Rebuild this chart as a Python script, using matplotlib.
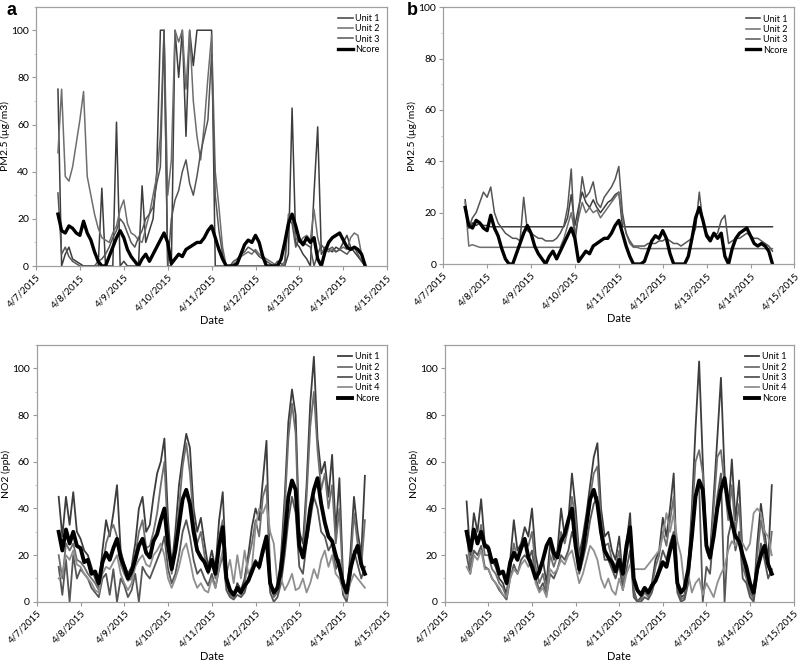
import numpy as np
import matplotlib
matplotlib.use('Agg')
import matplotlib.pyplot as plt
from matplotlib.ticker import MultipleLocator

plt.rcParams['font.family'] = ['Lato', 'DejaVu Sans']

# 샘플 시각 (4/7/2015 0시 기준 시간, 2시간 간격)
hours = np.arange(12, 181, 2)
days = hours / 24.0

date_labels = ['4/7/2015', '4/8/2015', '4/9/2015', '4/10/2015', '4/11/2015',
               '4/12/2015', '4/13/2015', '4/14/2015', '4/15/2015']

# ---- PM2.5 ----
ncore_pm = [22, 15, 14, 17, 16, 14, 13, 19, 14, 11, 6, 2,
            0, 0, 4, 8, 12, 15, 12, 7, 4, 2, 0, 3,
            5, 2, 5, 8, 11, 14, 10, 1, 3, 5, 4, 7,
            8, 9, 10, 10, 12, 15, 17, 12, 7, 3, 0, 0,
            0, 1, 5, 9, 11, 10, 13, 10, 4, 0, 0, 0,
            0, 3, 10, 18, 22, 17, 11, 9, 12, 10, 12, 3,
            0, 6, 10, 12, 13, 14, 11, 8, 7, 8, 7, 5,
            0]

a_unit1 = [75, 0, 5, 8, 3, 2, 1, 0, 0, 0, 0, 0,
           33, 0, 0, 0, 61, 0, 2, 0, 0, 0, 0, 34,
           10, 15, 20, 40, 100, 100, 0, 0, 100, 80, 100, 55,
           100, 85, 100, 100, 100, 100, 100, 0, 0, 0, 0, 0,
           0, 0, 0, 0, 0, 0, 0, 0, 0, 0, 0, 0,
           0, 0, 0, 5, 67, 10, 8, 5, 3, 0, 31, 59,
           5, 8, 7, 6, 8, 7, 10, 13, 8, 6, 4, 2,
           0]
a_unit2 = [48, 75, 38, 36, 42, 52, 62, 74, 38, 30, 22, 16,
           12, 11, 10, 14, 17, 24, 28, 18, 14, 13, 11, 10,
           16, 22, 30, 38, 55, 100, 30, 45, 100, 95, 100, 75,
           100, 70, 55, 45, 60, 80, 98, 40, 25, 8, 0, 0,
           1, 2, 4, 5, 6, 5, 7, 5, 4, 3, 2, 1,
           0, 0, 2, 22, 20, 12, 10, 12, 13, 11, 24, 12,
           6, 7, 6, 7, 6, 7, 8, 7, 12, 14, 13, 5,
           0]
a_unit3 = [31, 5, 8, 4, 2, 1, 0, 0, 0, 0, 0, 2,
           3, 5, 8, 12, 15, 20, 18, 14, 10, 8, 12, 15,
           20, 22, 25, 35, 42, 100, 0, 20, 28, 32, 40, 45,
           35, 30, 38, 48, 55, 62, 90, 30, 15, 5, 0, 0,
           2, 3, 5, 6, 8, 7, 6, 4, 3, 2, 1, 0,
           2, 1, 0, 20, 18, 8, 12, 10, 9, 8, 0, 5,
           9, 7, 7, 8, 6, 7, 6, 5, 7, 8, 5, 2,
           0]

b_unit1 = [25, 14, 16, 15, 16, 15, 15, 14.5, 14.5, 14.5, 14.5, 14.5,
           14.5, 14.5, 14.5, 14.5, 14.5, 14.5, 14.5, 14.5, 14.5, 14.5, 14.5, 14.5,
           14.5, 14.5, 14.5, 14.5, 18, 27, 15, 22, 28, 24, 22, 25,
           22, 20, 22, 24, 25, 27, 28, 14.5, 14.5, 14.5, 14.5, 14.5,
           14.5, 14.5, 14.5, 14.5, 14.5, 14.5, 14.5, 14.5, 14.5, 14.5, 14.5, 14.5,
           14.5, 14.5, 14.5, 14.5, 14.5, 14.5, 14.5, 14.5, 14.5, 14.5, 14.5, 14.5,
           14.5, 14.5, 14.5, 14.5, 14.5, 14.5, 14.5, 14.5, 14.5, 14.5, 14.5, 14.5,
           14.5]
b_unit2 = [24, 7, 7.5, 7, 6.5, 6.5, 6.5, 6.5, 6.5, 6.5, 6.5, 6.5,
           6.5, 6.5, 6.5, 6.5, 6.5, 6.5, 6.5, 6.5, 6.5, 6.5, 6.5, 6.5,
           6.5, 6.5, 6.5, 10, 15, 20, 12, 18, 24, 20, 22, 20,
           21, 18, 20, 22, 24, 26, 28, 18, 12, 8, 6.5, 6.5,
           6, 6, 6, 6, 6, 6, 6, 6, 6, 6, 6, 6,
           6, 6, 6, 6, 6, 6, 6, 6, 6, 6, 6, 6,
           6, 6, 6, 6, 6, 6, 6, 6, 6, 6, 6, 6,
           6]
b_unit3 = [22, 14, 18, 20, 24, 28, 26, 30, 20, 16, 14, 12,
           11, 10, 10, 9, 26, 13, 12, 11, 10, 10, 9, 9,
           9, 10, 12, 15, 22, 37, 8, 20, 34, 26, 28, 32,
           24, 22, 26, 28, 30, 33, 38, 20, 12, 9, 7, 7,
           7, 7, 8, 8, 8, 9, 9, 10, 9, 8, 8, 7,
           8, 9, 10, 14, 28, 16, 12, 10, 11, 12, 17, 19,
           8, 9, 10, 10, 11, 12, 11, 10, 10, 9, 8, 7,
           5]

# ---- NO2 ----
ncore_no2 = [30, 22, 31, 25, 30, 24, 23, 17, 18, 12, 13, 8,
             17, 21, 18, 23, 27, 19, 15, 10, 13, 18, 24, 27,
             21, 19, 26, 29, 35, 40, 24, 14, 22, 33, 44, 48,
             42, 30, 22, 19, 17, 13, 18, 12, 24, 32, 10, 5,
             3, 6, 4, 7, 9, 13, 17, 15, 22, 28, 8, 4,
             6, 14, 28, 45, 52, 48, 24, 19, 28, 40, 48, 53,
             42, 34, 28, 26, 20, 15, 8, 4, 14, 20, 24, 16,
             12]

c_unit1 = [45, 28, 45, 33, 47, 30, 27, 22, 20, 15, 10, 6,
           22, 35, 28, 38, 50, 22, 16, 12, 15, 25, 40, 45,
           30, 33, 45, 55, 60, 70, 35, 15, 30, 50, 62, 72,
           66, 40, 30, 36, 25, 15, 22, 14, 35, 47, 12, 4,
           2, 8, 5, 10, 20, 32, 40, 35, 52, 69, 10, 3,
           5, 20, 45, 77, 91, 80, 30, 25, 50, 85, 105, 70,
           55, 60, 45, 63, 30, 53, 10, 3, 20, 45, 30, 20,
           54]
c_unit2 = [20, 10, 25, 22, 25, 18, 17, 15, 12, 10, 8, 5,
           14, 25, 30, 33, 28, 16, 12, 9, 10, 20, 30, 35,
           23, 24, 30, 38, 50, 60, 26, 12, 25, 40, 58, 68,
           55, 35, 25, 30, 20, 12, 18, 10, 28, 35, 8, 3,
           2, 5, 3, 8, 18, 25, 35, 28, 45, 50, 8, 2,
           4, 15, 40, 70, 85, 72, 25, 20, 45, 75, 90, 65,
           48, 55, 40, 50, 25, 40, 8, 2, 15, 38, 25, 15,
           35]
c_unit3 = [15, 3, 18, 0, 20, 10, 14, 12, 10, 6, 4, 2,
           10, 12, 3, 14, 0, 10, 7, 2, 5, 12, 0, 15,
           12, 10, 14, 18, 22, 28, 14, 8, 12, 20, 30, 35,
           28, 18, 12, 14, 10, 7, 12, 6, 14, 20, 5, 2,
           1, 3, 2, 4, 10, 12, 18, 14, 20, 25, 4, 0,
           2, 8, 20, 35, 45, 38, 15, 12, 25, 35, 45, 40,
           30, 28, 22, 25, 14, 18, 3, 0, 10, 22, 16, 10,
           15]
c_unit4 = [10, 12, 20, 18, 22, 16, 15, 12, 10, 8, 5, 4,
           12, 15, 14, 17, 20, 12, 8, 5, 8, 15, 18, 20,
           16, 15, 20, 22, 25, 20, 10, 6, 10, 15, 22, 25,
           18, 10, 6, 8, 5, 4, 10, 6, 15, 22, 12, 18,
           8, 20, 10, 22, 12, 15, 32, 40, 38, 42, 30, 25,
           8, 10, 5, 8, 12, 5, 6, 10, 4, 8, 14, 10,
           18, 22, 15, 20, 12, 10, 5, 2, 8, 12, 10, 8,
           6]

d_unit1 = [43, 20, 38, 30, 44, 25, 24, 18, 15, 10, 8, 3,
           18, 35, 22, 25, 32, 28, 40, 20, 12, 18, 8, 25,
           18, 22, 40, 28, 35, 55, 40, 20, 28, 38, 50, 62,
           68, 40, 28, 30, 22, 18, 28, 10, 25, 38, 5, 0,
           2, 5, 3, 8, 18, 22, 36, 28, 40, 55, 8, 2,
           3, 15, 40, 74, 103, 60, 25, 20, 45, 70, 96, 55,
           38, 61, 35, 52, 18, 12, 5, 2, 25, 42, 30, 18,
           50]
d_unit2 = [30, 15, 30, 25, 33, 20, 20, 14, 12, 8, 6, 2,
           14, 25, 18, 22, 26, 24, 30, 15, 8, 12, 5, 20,
           15, 20, 30, 25, 32, 45, 35, 18, 25, 32, 45, 55,
           58, 35, 24, 25, 18, 15, 22, 8, 20, 30, 4, 0,
           1, 4, 2, 6, 15, 20, 30, 24, 35, 45, 6, 1,
           2, 12, 35, 60, 65, 55, 22, 18, 40, 62, 65, 50,
           35, 50, 30, 42, 15, 10, 4, 1, 20, 35, 26, 15,
           30]
d_unit3 = [20, 12, 22, 20, 24, 15, 14, 10, 8, 5, 3, 1,
           10, 16, 12, 18, 20, 18, 22, 10, 5, 8, 3, 12,
           10, 14, 20, 18, 22, 30, 24, 12, 18, 25, 35, 42,
           45, 28, 18, 18, 14, 10, 16, 5, 14, 22, 2, 0,
           0, 2, 1, 4, 10, 15, 22, 18, 25, 30, 4, 0,
           1, 8, 25, 45, 50, 0, 15, 12, 30, 45, 55, 0,
           28, 35, 22, 30, 10, 8, 2, 0, 12, 25, 18, 10,
           14]
d_unit4 = [15, 12, 20, 18, 22, 14, 14, 10, 8, 6, 3, 2,
           10, 14, 12, 16, 18, 15, 18, 8, 4, 6, 2, 14,
           12, 14, 18, 16, 20, 22, 15, 8, 12, 18, 24, 22,
           18, 10, 6, 10, 5, 3, 10, 5, 12, 16, 14, 14,
           14, 14, 16, 18, 20, 22, 28, 38, 30, 38, 26, 20,
           6, 12, 4, 8, 10, 3, 8, 5, 2, 8, 12, 15,
           22, 26, 24, 27, 25, 22, 25, 38, 40, 38, 30, 28,
           20]

unit_colors = ['#3d3d3d', '#6e6e6e', '#555555', '#8f8f8f']


def draw_panel(ax, units, ncore, ylabel, ymax, lw_unit=1.1, lw_ncore=2.4):
    for i, vals in enumerate(units):
        ax.plot(days, vals, color=unit_colors[i], lw=lw_unit, label=f'Unit {i + 1}')
    ax.plot(days, ncore, color='black', lw=lw_ncore, label='Ncore')

    ax.set_xlim(0, 8)
    ax.set_ylim(0, ymax)
    ax.set_xticks(range(9))
    ax.set_xticklabels(date_labels, rotation=45, ha='right',
                       rotation_mode='anchor', fontsize=7)
    ax.set_yticks([0, 20, 40, 60, 80, 100])
    ax.yaxis.set_minor_locator(MultipleLocator(10))
    ax.tick_params(axis='y', labelsize=7.5, length=3, pad=2, color='#999999')
    ax.tick_params(axis='x', length=3, pad=2, color='#999999')
    ax.tick_params(which='minor', length=1.5, color='#bbbbbb')
    for s in ax.spines.values():
        s.set_color('#a0a0a0')
        s.set_linewidth(0.9)

    ax.set_xlabel('Date', fontsize=8, labelpad=1)
    ax.set_ylabel(ylabel, fontsize=7.5)
    ax.yaxis.set_label_coords(-0.075, 0.5)
    ax.legend(loc='upper right', frameon=False, fontsize=6.5,
              handlelength=1.6, handletextpad=0.3, labelspacing=0.15,
              borderaxespad=0.4)


fig = plt.figure(figsize=(8, 6.65), dpi=100)

ax_a = fig.add_axes([0.045, 0.600, 0.439, 0.390])
ax_b = fig.add_axes([0.554, 0.603, 0.439, 0.386])
ax_c = fig.add_axes([0.046, 0.095, 0.4375, 0.386])
ax_d = fig.add_axes([0.556, 0.095, 0.436, 0.386])

draw_panel(ax_a, [a_unit1, a_unit2, a_unit3], ncore_pm, 'PM2.5 (µg/m3)', 110)
draw_panel(ax_b, [b_unit1, b_unit2, b_unit3], ncore_pm, 'PM2.5 (µg/m3)', 100)
draw_panel(ax_c, [c_unit1, c_unit2, c_unit3, c_unit4], ncore_no2, 'NO2 (ppb)', 110,
           lw_unit=1.3, lw_ncore=2.8)
draw_panel(ax_d, [d_unit1, d_unit2, d_unit3, d_unit4], ncore_no2, 'NO2 (ppb)', 110,
           lw_unit=1.3, lw_ncore=2.8)

# 패널 문자
for x, letter in [(0.008, 'a'), (0.508, 'b')]:
    fig.text(x, 0.997, letter, fontsize=13, fontweight='bold',
             family=['Liberation Sans', 'DejaVu Sans'], ha='left', va='top')

fig.savefig('out.png', dpi=100)
